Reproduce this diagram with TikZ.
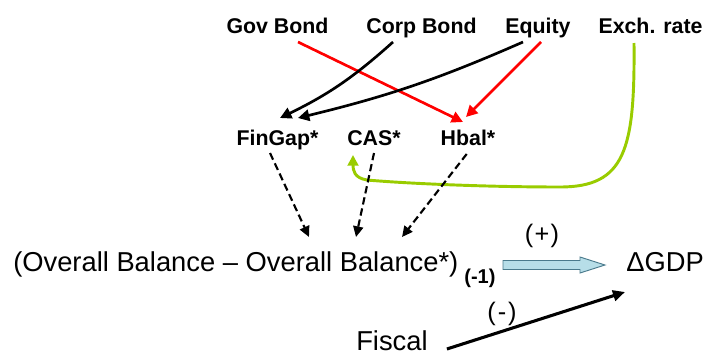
\documentclass[tikz,border=0pt]{standalone}
\usepackage{fontspec}
\setmainfont{Liberation Sans}
\usetikzlibrary{arrows.meta}
\definecolor{arrred}{HTML}{FF0000}
\definecolor{arrgreen}{HTML}{99CC00}
\definecolor{bigfill}{HTML}{B7DEE8}
\definecolor{bigline}{HTML}{4A7A8C}
\tikzset{
  toplbl/.style={inner sep=0pt, anchor=base, font=\fontsize{16}{19}\selectfont\bfseries},
  bottomlbl/.style={inner sep=0pt, anchor=base west, font=\fontsize{20.5}{24}\selectfont},
  signlbl/.style={inner sep=0pt, font=\fontsize{19}{22}\selectfont},
  redarr/.style={draw=arrred, line width=2pt, -{Triangle[length=8.5pt,width=8.5pt]}},
  blkarr/.style={draw=black, line width=2pt, -{Triangle[length=8.5pt,width=8.5pt]}},
  greenarr/.style={draw=arrgreen, line width=2.2pt, -{Triangle[length=8pt,width=8pt]}},
  dasharr/.style={draw=black, line width=1.6pt, dash pattern=on 5.5pt off 3pt, -{Triangle[length=8pt,width=7.5pt]}},
  fiscarr/.style={draw=black, line width=2.3pt, -{Triangle[length=9pt,width=8pt]}},
  bigarrow/.style={draw=bigline, line width=0.7pt, fill=bigfill, line join=miter}
}
\begin{document}
\begin{tikzpicture}[x=0.75pt, y=-0.75pt]
\useasboundingbox (0,0) rectangle (707,354);
% top row
\node[toplbl] (gov)  at (277.5,33) {Gov Bond};
\node[toplbl] (corp) at (421.5,33) {Corp Bond};
\node[toplbl] (eq)   at (538,33)   {Equity};
\node[toplbl] (ex)   at (650.5,33) {Exch. rate};
% middle row
\node[toplbl] (fin) at (277.5,145) {FinGap*};
\node[toplbl] (cas) at (374,145)   {CAS*};
\node[toplbl] (hb)  at (468,145)   {Hbal*};
% bottom
\node[bottomlbl] (ob) at (13,271) {(Overall Balance – Overall Balance*)\kern4.5pt\raisebox{-9pt}{\fontsize{15}{17}\selectfont\bfseries (-1)}};
\node[bottomlbl] (gdp) at (626,271) {ΔGDP};
\node[bottomlbl] (fisc) at (356,350) {Fiscal};
\node[signlbl] (plus) at (542,236) {(\kern1pt+\kern1pt)};
\node[signlbl] (minus) at (502,314) {(\kern1.5pt-\kern1.5pt)};
% top arrows
\draw[redarr] ([shift={(20.5,9)}]gov.base) -- ([shift={(-5,-23)}]hb.base);
\draw[blkarr] ([shift={(-28.5,9)}]corp.base) to[bend left=8] ([shift={(2.5,-27)}]fin.base);
\draw[blkarr] ([shift={(-15,9)}]eq.base) to[bend left=5] ([shift={(20.5,-27)}]fin.base);
\draw[redarr] ([shift={(3,9)}]eq.base) -- ([shift={(-2,-28)}]hb.base);
\draw[greenarr] ([shift={(-16.5,10)}]ex.base) .. controls (635,150) and (625,187) .. (560,187)
   .. controls (480,187) and (400,183) .. (367,180)
   .. controls (354,178) and (353,170) .. ([shift={(-21,10)}]cas.base);
% dashed arrows
\draw[dasharr] ([shift={(-7.5,8)}]fin.base) -- ([shift={(296,-34)}]ob.base west);
\draw[dasharr] ([shift={(0,8)}]cas.base) -- ([shift={(343,-34)}]ob.base west);
\draw[dasharr] ([shift={(-1.3,9)}]hb.base) -- ([shift={(389,-34)}]ob.base west);
% big hollow arrow
\coordinate (bigS) at (503,260.5);
\draw[bigarrow] (bigS) -- ++(77,0) -- ++(0,-3.5) -- ++(25,8) -- ++(-25,8) -- ++(0,-3.5) -- ++(-77,0) -- cycle;
% fiscal arrow
\draw[fiscarr] ([shift={(19,-1)}]fisc.base east) -- ([shift={(-1,21)}]gdp.base west);
\end{tikzpicture}
\end{document}
